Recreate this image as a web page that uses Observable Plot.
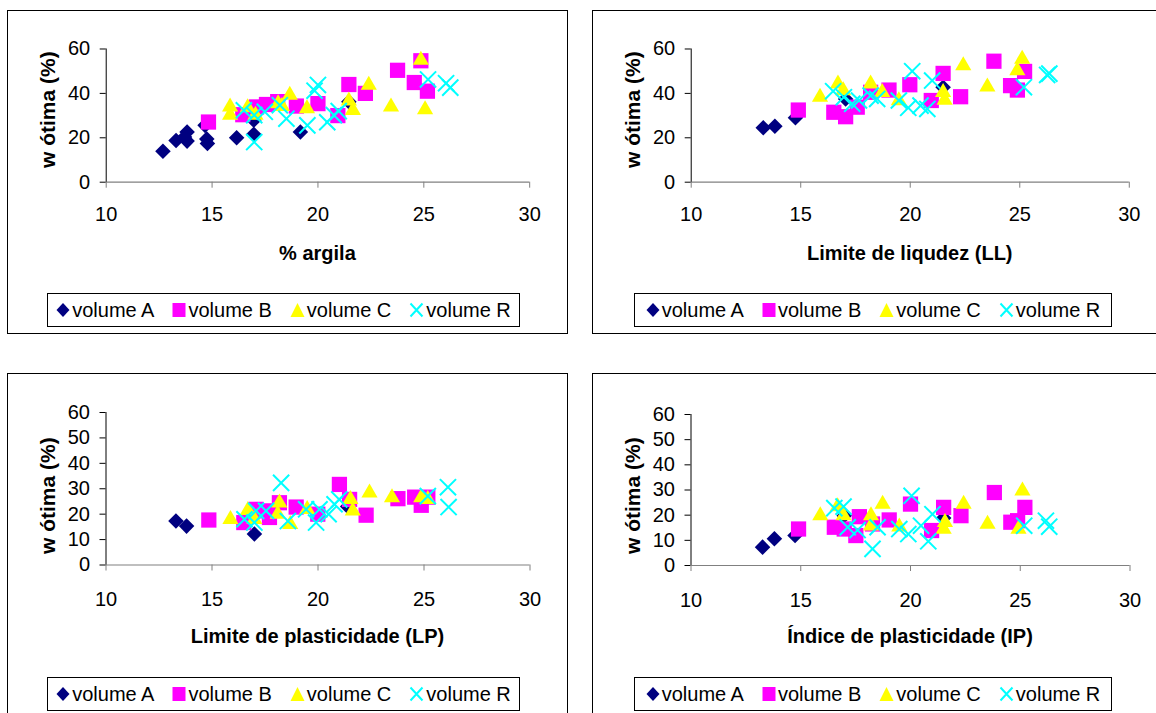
<!DOCTYPE html>
<html>
<head>
<meta charset="utf-8">
<script src="https://cdn.jsdelivr.net/npm/d3@7"></script>
<script src="https://cdn.jsdelivr.net/npm/@observablehq/plot@0.6"></script>
<style>
  html, body { margin: 0; padding: 0; background: #fff; }
  #root { position: relative; width: 1156px; height: 713px; overflow: hidden; background: #fff;
          font-family: "Liberation Sans", Arial, sans-serif; color: #000; }
  .panel { position: absolute; border: 1px solid #000; box-sizing: border-box; background: #fff; }
  .chart { position: absolute; }
  .chart svg { max-width: none; display: block; }
  .xtitle { position: absolute; font-weight: bold; font-size: 20px; white-space: nowrap; line-height: 1; }
  .ytitle { position: absolute; white-space: nowrap; font-weight: bold; font-size: 21px; line-height: 24px;
            transform-origin: 0 100%; transform: rotate(-90deg); }
  .legend { position: absolute; border: 1px solid #000; box-sizing: border-box; background: #fff;
            display: flex; align-items: center; justify-content: center; font-size: 20px; white-space: nowrap; }
  .legend .item { display: flex; align-items: center; }
  .legend svg { display: block; margin-right: 2px; }
</style>
</head>
<body>
<div id="root"></div>
<script>
// ---------------- data ----------------
const seriesNames = ["volume A", "volume B", "volume C", "volume R"];
const seriesColors = ["#000080", "#FF00FF", "#FFFF00", "#00FFFF"];
const xTicks = [10, 15, 20, 25, 30];
const yTicksTop = [0, 20, 40, 60];
const yTicksBottom = [0, 10, 20, 30, 40, 50, 60];
const xTitles = ["% argila", "Limite de liqudez (LL)", "Limite de plasticidade (LP)", "Índice de plasticidade (IP)"];
const yTitle = "w ótima (%)";

// Panel 1: % argila
const argilaA = [[12.68,13.9],[13.3,18.8],[13.7,20.4],[13.82,22.6],[13.82,18.5],[14.75,19.4],[14.78,17.4],[14.67,25.6],[16.16,20.0],[16.97,21.6],[16.97,27.9],[19.17,22.6],[21.46,36.2]];
const argilaB = [[14.83,27.1],[16.45,30.4],[17.1,33.9],[17.57,35.0],[18.1,36.3],[18.98,34.3],[20.0,35.4],[20.94,30.0],[21.46,44.0],[22.24,40.0],[23.76,50.4],[24.55,44.9],[24.86,54.7],[25.17,41.0]];
const argilaC = [[15.85,33.9],[15.85,30.2],[16.68,33.6],[17.05,30.2],[18.12,35.4],[18.3,34.2],[18.67,39.2],[19.48,33.2],[21.46,36.6],[21.65,32.4],[22.4,43.7],[23.45,33.9],[24.86,55.0],[25.06,32.7]];
const argilaR = [[16.5,32.4],[16.99,30.2],[16.99,18.1],[17.49,31.7],[18.2,34.7],[18.51,28.6],[19.5,25.6],[19.84,41.2],[20.0,43.8],[20.44,27.0],[20.75,30.2],[20.98,32.0],[25.2,46.3],[26.05,44.6],[26.25,42.6]];

// Panel 2: Limite de liquidez (LL)
const llA = [[13.29,24.5],[13.82,25.2],[14.76,29.0],[17.05,37.5],[21.5,42.8]];
const llB = [[14.89,32.5],[16.51,31.5],[17.05,29.5],[17.58,33.8],[18.19,40.5],[19.03,41.5],[19.98,43.9],[20.96,36.8],[21.5,49.0],[22.3,38.5],[23.82,54.5],[24.58,43.5],[24.89,41.5],[25.22,49.9]];
const llC = [[15.88,38.3],[16.7,44.3],[16.94,41.3],[18.19,44.3],[18.72,40.5],[19.48,36.8],[21.5,40.5],[21.57,37.0],[22.42,52.5],[23.52,43.0],[24.89,50.3],[25.11,55.5]];
const llR = [[16.48,41.0],[16.97,38.3],[17.35,35.3],[17.66,36.8],[18.19,39.0],[18.49,37.5],[19.48,36.8],[19.91,33.5],[20.09,50.0],[20.47,34.5],[20.78,33.0],[21.0,45.8],[25.19,42.8],[26.25,48.3],[26.35,48.9]];

// Panel 3: Limite de plasticidade (LP)
const lpA = [[13.3,17.3],[13.8,15.3],[17.0,12.2],[21.4,23.0]];
const lpB = [[14.85,17.7],[16.5,16.7],[17.08,21.9],[17.47,21.3],[17.71,18.7],[18.18,24.5],[18.97,22.8],[19.99,20.0],[21.01,31.7],[21.49,25.8],[22.27,19.6],[23.77,26.1],[24.56,26.7],[24.87,23.5],[25.18,26.7]];
const lpC = [[15.87,18.0],[16.69,21.5],[17.0,18.0],[18.1,20.0],[18.18,24.5],[18.69,16.0],[19.49,21.9],[21.53,25.8],[21.64,21.3],[22.43,28.4],[23.49,26.5],[24.87,26.5],[25.18,25.8]];
const lpR = [[16.53,18.0],[17.0,16.7],[17.08,21.3],[17.55,21.3],[18.26,32.3],[18.58,17.3],[19.44,21.9],[19.91,16.7],[20.07,21.9],[20.5,20.0],[20.78,23.9],[21.0,25.8],[25.18,27.1],[26.13,30.6],[26.16,22.8]];

// Panel 4: Índice de plasticidade (IP)
const ipA = [[13.26,7.3],[13.8,10.6],[14.74,11.9],[16.98,19.8],[21.51,18.9]];
const ipB = [[14.9,14.5],[16.53,15.2],[16.98,14.5],[17.51,11.9],[17.67,19.4],[18.27,16.5],[19.03,18.1],[20.0,24.4],[20.96,13.9],[21.51,23.1],[22.3,19.8],[23.82,29.0],[24.57,17.2],[24.88,17.8],[25.21,23.1]];
const ipC = [[15.89,19.8],[16.68,23.4],[16.95,19.8],[18.2,19.8],[18.2,15.8],[18.73,24.4],[19.49,15.4],[21.51,14.5],[21.57,17.2],[22.42,24.4],[23.51,16.5],[24.92,14.5],[25.1,29.7]];
const ipR = [[16.53,22.8],[16.95,23.4],[17.14,15.2],[17.59,14.1],[18.27,6.6],[18.5,15.2],[19.49,14.5],[19.9,12.5],[20.05,27.7],[20.48,15.8],[20.81,9.6],[21.0,20.4],[25.18,15.8],[26.17,17.8],[26.32,15.4]];

// ---------------- layout ----------------
const panels = [
  { series: [argilaA, argilaB, argilaC, argilaR], title: xTitles[0], yTicks: yTicksTop,
    box: [7, 10, 561, 324], x0: 105.7, x1: 529.2, yBot: 181.7, yTop: 48.5, padX: 19,
    xTitleTop: 243, legend: [47, 293, 473, 34], ytBottom: 168 },
  { series: [llA, llB, llC, llR], title: xTitles[1], yTicks: yTicksTop,
    box: [592, 10, 575, 324], x0: 690.7, x1: 1128.8, yBot: 181.7, yTop: 48.5, padX: 19,
    xTitleTop: 243, legend: [634, 293, 478, 34], ytBottom: 168 },
  { series: [lpA, lpB, lpC, lpR], title: xTitles[2], yTicks: yTicksBottom,
    box: [7, 373, 561, 350], x0: 105.5, x1: 529.5, yBot: 564.5, yTop: 412, padX: 21,
    xTitleTop: 626, legend: [47, 677, 473, 34], ytBottom: 554 },
  { series: [ipA, ipB, ipC, ipR], title: xTitles[3], yTicks: yTicksBottom,
    box: [592, 373, 575, 350], x0: 690.5, x1: 1129.5, yBot: 565, yTop: 414, padX: 21,
    xTitleTop: 626, legend: [634, 677, 478, 34], ytBottom: 554 }
];

const root = document.getElementById("root");

function legendSymbol(i) {
  const c = seriesColors[i];
  const shapes = [
    `<svg width="14" height="16"><path d="M7,1L13.5,8L7,15L0.5,8Z" fill="${c}"/></svg>`,
    `<svg width="14" height="16"><rect x="0.5" y="1" width="13" height="14" fill="${c}"/></svg>`,
    `<svg width="15" height="16"><path d="M7.5,1L14.5,15L0.5,15Z" fill="${c}"/></svg>`,
    `<svg width="15" height="16"><path d="M1.5,1.5L13.5,14.5M13.5,1.5L1.5,14.5" stroke="${c}" stroke-width="2" fill="none"/></svg>`
  ];
  return shapes[i];
}

panels.forEach(p => {
  const [bl, bt, bw, bh] = p.box;
  const panel = document.createElement("div");
  panel.className = "panel";
  Object.assign(panel.style, { left: bl + "px", top: bt + "px", width: bw + "px", height: bh + "px" });
  root.appendChild(panel);

  const H = (p.yBot - bt) + 50;
  const syms = ["diamond2", "square", "triangle", "times"];
  const radii = [7.0, 8.6, 6.0, 7.4];
  const dotMarks = p.series.map((data, i) =>
    i === 3
      ? Plot.dot(data, { x: d => d[0], y: d => d[1], symbol: syms[i], stroke: seriesColors[i], strokeWidth: 2, r: radii[i] })
      : Plot.dot(data, { x: d => d[0], y: d => d[1], symbol: syms[i], fill: seriesColors[i], stroke: "none", r: radii[i] })
  );

  const svg = Plot.plot({
    width: bw,
    height: H,
    marginLeft: p.x0 - bl,
    marginRight: bl + bw - p.x1,
    marginTop: p.yTop - bt,
    marginBottom: H - (p.yBot - bt),
    style: { background: "transparent", overflow: "visible", fontFamily: "'Liberation Sans', Arial, sans-serif", fontSize: "20px", color: "#000" },
    x: { domain: [10, 30] },
    y: { domain: [0, 60] },
    marks: [
      Plot.axisX(xTicks, { tickSize: 6, tickPadding: p.padX, fontSize: 20, stroke: "#808080", fill: "#000", label: null }),
      Plot.axisY(p.yTicks, { tickSize: 6, tickPadding: 10, fontSize: 20, stroke: "#000", fill: "#000", label: null }),
      Plot.ruleY([0], { stroke: "#808080", strokeWidth: 1.2 }),
      Plot.ruleX([10], { stroke: "#000" }),
      ...dotMarks
    ]
  });
  const holder = document.createElement("div");
  holder.className = "chart";
  Object.assign(holder.style, { left: bl + "px", top: bt + "px" });
  holder.appendChild(svg);
  root.appendChild(holder);

  // x-axis title
  const xt = document.createElement("div");
  xt.className = "xtitle";
  xt.textContent = p.title;
  root.appendChild(xt);
  const w = xt.getBoundingClientRect().width;
  Object.assign(xt.style, { left: ((p.x0 + p.x1) / 2 - w / 2) + "px", top: p.xTitleTop + "px" });

  // y-axis title (rotated), origin = bottom-left corner of the span
  const yt = document.createElement("div");
  yt.className = "ytitle";
  yt.textContent = yTitle;
  Object.assign(yt.style, { left: (bl + 53) + "px", top: (p.ytBottom - 24) + "px" });
  root.appendChild(yt);

  // legend
  const [ll, lt, lw, lh] = p.legend;
  const lg = document.createElement("div");
  lg.className = "legend";
  Object.assign(lg.style, { left: ll + "px", top: lt + "px", width: lw + "px", height: lh + "px" });
  lg.innerHTML = seriesNames.map((n, i) =>
    `<div class="item" style="margin-right:${i < 3 ? 18 : 0}px">${legendSymbol(i)}<span>${n}</span></div>`).join("");
  root.appendChild(lg);
});
</script>
</body>
</html>
